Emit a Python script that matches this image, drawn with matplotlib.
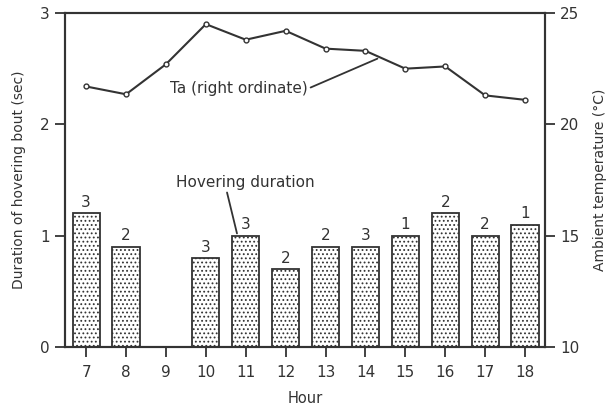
import numpy as np
import matplotlib
matplotlib.use("Agg")
from matplotlib import pyplot as plt

hours = [7, 8, 9, 10, 11, 12, 13, 14, 15, 16, 17, 18]
duration = [1.2, 0.9, 0.0, 0.8, 1.0, 0.7, 0.9, 0.9, 1.0, 1.2, 1.0, 1.1]
counts = ["3", "2", "", "3", "3", "2", "2", "3", "1", "2", "2", "1"]
temp = [21.7, 21.35, 22.7, 24.5, 23.8, 24.2, 23.4, 23.3, 22.5, 22.6, 21.3, 21.1]

ink = "#333333"
plt.rcParams['font.family'] = ['DejaVu Sans']
plt.rcParams['hatch.color'] = '#777777'
plt.rcParams['hatch.linewidth'] = 0.8

fig = plt.figure(figsize=(6.11, 4.09), dpi=100)
ax = fig.add_axes([0.1064, 0.1516, 0.7856, 0.8166])
ax2 = ax.twinx()

bars = ax.bar(hours, duration, width=0.68, facecolor="white", edgecolor=ink,
              linewidth=1.3, hatch="....", zorder=2)
for x, h, c in zip(hours, duration, counts):
    ax.text(x, h + 0.03, c, ha="center", va="bottom", fontsize=11, color=ink)

ax2.plot(hours, temp, color=ink, lw=1.5, marker="o", ms=3.5,
         mfc="white", mec=ink, mew=1)

ax.set_xlim(6.47, 18.5)
ax.set_ylim(0, 3)
ax2.set_ylim(10, 25)
ax.set_xticks(hours)
ax.set_yticks([0, 1, 2, 3])
ax2.set_yticks([10, 15, 20, 25])

for a in (ax, ax2):
    for s in a.spines.values():
        s.set_color(ink)
        s.set_linewidth(1.5)
    a.tick_params(direction="out", length=7, width=1.3, colors=ink,
                  labelsize=11, pad=4)
ax.tick_params(axis="x", pad=6)

ax.set_xlabel("Hour", fontsize=10.5, color=ink, labelpad=8)
ax.set_ylabel("Duration of hovering bout (sec)", fontsize=10, color=ink, labelpad=10)
ax2.set_ylabel("Ambient temperature (\u00b0C)", fontsize=10, color=ink, labelpad=10)

ax2.annotate("Ta (right ordinate)", xy=(14.3, 22.95), xytext=(10.83, 21.6),
             fontsize=11, color=ink, ha="center", va="center",
             arrowprops=dict(arrowstyle="-", color=ink, lw=1.3,
                             shrinkA=0, shrinkB=0, relpos=(1.0, 0.5)))
ax.annotate("Hovering duration", xy=(10.78, 1.02), xytext=(11.0, 1.48),
            fontsize=11, color=ink, ha="center", va="center",
            arrowprops=dict(arrowstyle="-", color=ink, lw=1.3,
                            shrinkA=0, shrinkB=0, relpos=(0.36, 0.0)))

fig.savefig("out.png", dpi=100)
